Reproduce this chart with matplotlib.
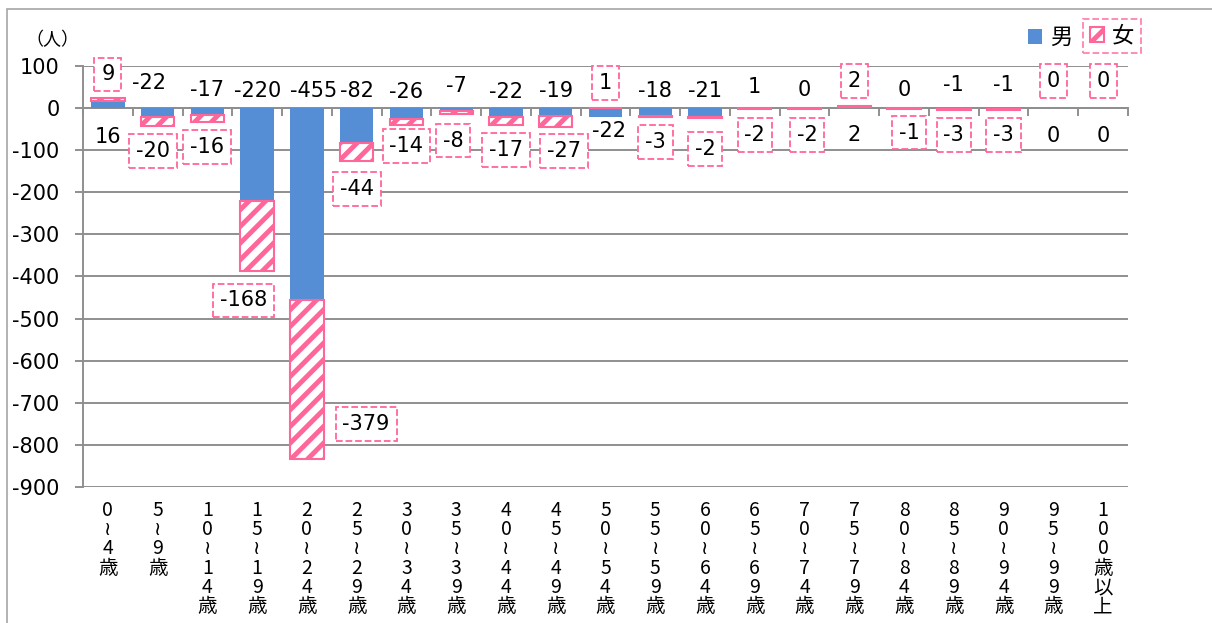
import matplotlib
matplotlib.use('Agg')
import matplotlib.pyplot as plt
import numpy as np
from matplotlib.patches import Rectangle

plt.rcParams['font.family'] = ['DejaVu Sans', 'Noto Sans CJK JP']
plt.rcParams['hatch.linewidth'] = 3.5

# ── data ─────────────────────────────────────────────
categories = ['0～4歳', '5～9歳', '10～14歳', '15～19歳', '20～24歳', '25～29歳',
              '30～34歳', '35～39歳', '40～44歳', '45～49歳', '50～54歳', '55～59歳',
              '60～64歳', '65～69歳', '70～74歳', '75～79歳', '80～84歳', '85～89歳',
              '90～94歳', '95～99歳', '100歳以上']
male = [16, -22, -17, -220, -455, -82, -26, -7, -22, -19, -22, -18,
        -21, 1, 0, 2, 0, -1, -1, 0, 0]
female = [9, -20, -16, -168, -379, -44, -14, -8, -17, -27, 1, -3,
          -2, -2, -2, 2, -1, -3, -3, 0, 0]
yticks = list(range(-900, 101, 100))

# label placement (value units / category offsets)
male_label_y = [-69, 60, 43, 40, 40, 40, 38, 52, 38, 40, -55, 40,
                40, 50, 43, -64, 43, 55, 55, -67, -67]
male_label_dx = [0, -0.18, 0, 0, 0.14, 0, 0, 0, 0, 0, 0.08, 0,
                 0, 0, 0, 0, 0, 0, 0, 0, 0]
female_label_y = [80, -102, -92, -457, -751, -193, -90, -77, -99, -102, 60, -80,
                  -98, -64, -64, 65, -58, -64, -64, 65, 65]
female_label_dx = [0, -0.1, 0, -0.27, 1.19, 0, 0, -0.06, 0, 0.16, 0, 0,
                   0, 0, 0.05, 0, 0.1, 0, 0, 0, 0]

BLUE = '#558ED5'
PINK = '#FF6699'
GRID = '#8F8F8F'

x = np.arange(len(categories))
male_a = np.array(male)
female_a = np.array(female)
# Excel stacks positives and negatives separately
female_bottom = np.where(np.sign(male_a) * np.sign(female_a) > 0, male_a, 0)

fig = plt.figure(figsize=(12.12, 6.23), dpi=100)
ax = fig.add_axes([83 / 1212, 1 - 487 / 623, 1045 / 1212, 421 / 623])

bars_m = ax.bar(x, male_a, width=0.67, color=BLUE, zorder=3)
mask = female_a != 0
bars_f = ax.bar(x[mask], female_a[mask], bottom=female_bottom[mask], width=0.67,
                color='white', edgecolor=PINK, hatch='//', linewidth=1.5, zorder=3)

ax.set_xlim(-0.5, len(categories) - 0.5)
ax.set_ylim(-900, 100)
ax.set_yticks(yticks)
ax.set_yticklabels([str(v) for v in yticks], fontsize=15)
ax.grid(axis='y', color=GRID, linewidth=1.4, zorder=0)
ax.set_axisbelow(True)

for s in ['top', 'right']:
    ax.spines[s].set_visible(False)
ax.spines['left'].set_color(GRID)
ax.spines['left'].set_linewidth(1.4)
ax.spines['bottom'].set_position(('data', 0))
ax.spines['bottom'].set_color(GRID)
ax.spines['bottom'].set_linewidth(1.4)

ax.tick_params(axis='y', length=6, width=1.4, color=GRID, pad=11)
ax.set_xticks(x)
ax.tick_params(axis='x', which='major', length=0, labelbottom=False)
ax.set_xticks(np.arange(-0.5, len(categories), 1), minor=True)
ax.tick_params(axis='x', which='minor', length=6, width=1.4, color=GRID, direction='out')

sec = ax.secondary_xaxis('bottom')
sec.set_xticks(x)
sec.set_xticklabels(['\n'.join(c.replace('～', '≀')) for c in categories],
                    fontsize=14, linespacing=0.9,
                    family=['Noto Sans CJK JP', 'DejaVu Sans'])
sec.tick_params(length=0, pad=9, labelsize=14)
sec.spines['bottom'].set_visible(False)

# data labels
for i in range(len(categories)):
    ax.text(x[i] + male_label_dx[i], male_label_y[i], str(male[i]),
            ha='center', va='center', fontsize=15, zorder=5)
    ax.text(x[i] + female_label_dx[i], female_label_y[i], str(female[i]),
            ha='center', va='center', fontsize=15, zorder=5,
            bbox=dict(boxstyle='square,pad=0.33', fc='white', ec=PINK,
                      ls='--', lw=1.3))

fig.text(52 / 1212, 1 - 40 / 623, '（人）', ha='center', va='center', fontsize=13)

# legends
leg1 = fig.legend([bars_m], ['男'], loc='center', bbox_to_anchor=(1050 / 1212, 1 - 38 / 623),
                  frameon=False, fontsize=16, handlelength=0.65, handleheight=0.65,
                  handletextpad=0.35, borderpad=0.2)
leg2 = fig.legend([bars_f], ['女'], loc='center', bbox_to_anchor=(1112 / 1212, 1 - 36 / 623),
                  frameon=True, fancybox=False, fontsize=16, handlelength=0.65,
                  handleheight=0.65, handletextpad=0.35, borderpad=0.3)
fr = leg2.get_frame()
fr.set_edgecolor(PINK)
fr.set_linestyle('--')
fr.set_linewidth(1.3)

# outer chart frame
fig.add_artist(Rectangle((7 / 1212, -0.1), 2, 1 - 9 / 623 + 0.1, transform=fig.transFigure,
                         fill=False, ec='#A6A6A6', lw=1.2))

fig.savefig('out.png', dpi=100)
